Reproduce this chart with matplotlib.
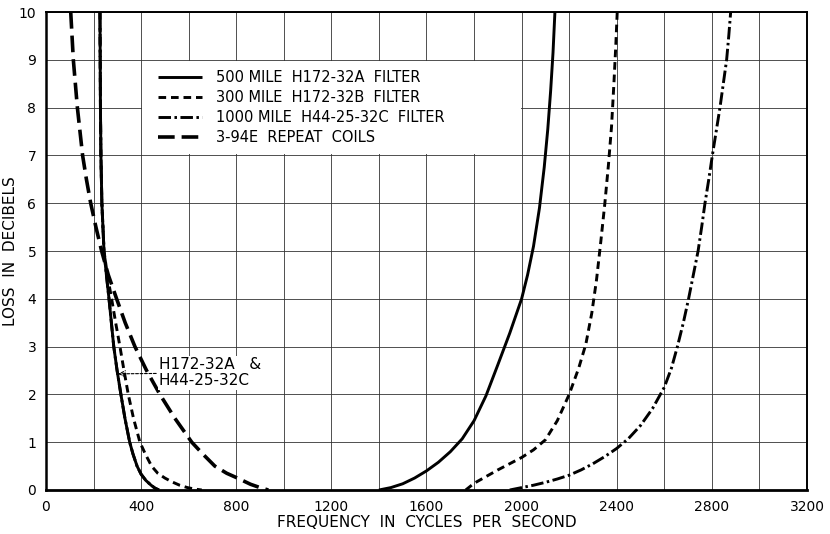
import numpy as np
import matplotlib
matplotlib.use('Agg')
from matplotlib import pyplot as plt
from matplotlib.patches import Rectangle

# ---- data (frequency in c/s, loss in dB) ----
# 500 mile H172-32A filter (low side is shared with H44-25-32C)
a_low_f = [227, 229, 231, 235, 244, 254, 265, 275, 285, 299, 315, 332, 352, 366, 383, 400, 420, 442, 458, 475]
a_low_db = [10, 8, 7, 6, 5, 4.5, 4, 3.5, 3, 2.5, 2, 1.5, 1, 0.75, 0.5, 0.33, 0.2, 0.1, 0.04, 0]
a_high_f = [1400, 1450, 1500, 1550, 1600, 1650, 1700, 1750, 1800, 1850, 1900, 1950, 2000, 2025, 2050, 2075, 2095, 2110, 2122, 2132, 2140]
a_high_db = [0, 0.05, 0.13, 0.25, 0.4, 0.58, 0.8, 1.07, 1.45, 1.97, 2.62, 3.28, 4.0, 4.5, 5.1, 5.9, 6.75, 7.55, 8.35, 9.15, 10]

# 300 mile H172-32B filter
b_low_f = [227, 229, 231, 235, 244, 258, 276, 293, 311, 328, 346, 368, 395, 418, 444, 470, 500, 530, 562, 595, 625, 655]
b_low_db = [10, 8, 7, 6, 5, 4.5, 4, 3.5, 3, 2.5, 2, 1.5, 1, 0.75, 0.5, 0.35, 0.25, 0.17, 0.1, 0.05, 0.02, 0]
b_high_f = [1765, 1800, 1850, 1900, 1950, 2000, 2050, 2100, 2150, 2200, 2240, 2270, 2295, 2315, 2333, 2350, 2365, 2378, 2388, 2396, 2402]
b_high_db = [0, 0.14, 0.28, 0.42, 0.55, 0.68, 0.84, 1.05, 1.45, 2.0, 2.55, 3.05, 3.7, 4.4, 5.2, 6.0, 6.8, 7.6, 8.5, 9.3, 10]

# 1000 mile H44-25-32C filter (low side same as H172-32A)
c_low_f = a_low_f
c_low_db = a_low_db
c_high_f = [1950, 2000, 2050, 2100, 2150, 2200, 2250, 2300, 2350, 2400, 2450, 2500, 2550, 2600, 2630, 2655, 2680, 2702,
            2722, 2742, 2757, 2771, 2787, 2802, 2818, 2834, 2848, 2862, 2871, 2879]
c_high_db = [0, 0.05, 0.1, 0.16, 0.23, 0.31, 0.42, 0.55, 0.7, 0.87, 1.08, 1.35, 1.7, 2.15, 2.55, 3.0, 3.5, 4.0,
             4.5, 5.0, 5.5, 6.0, 6.5, 7.0, 7.5, 8.0, 8.5, 9.0, 9.5, 10]

# 3-94E repeat coils
d_f = [104, 115, 132, 154, 170, 188, 210, 234, 262, 297, 333, 374, 423, 479, 542, 613, 660, 710, 760, 805, 860, 900, 935]
d_db = [10, 9, 8, 7, 6.5, 6, 5.5, 5, 4.5, 4, 3.5, 3, 2.5, 2, 1.5, 1, 0.75, 0.5, 0.35, 0.25, 0.12, 0.05, 0]

labels = ['500 MILE  H172-32A  FILTER', '300 MILE  H172-32B  FILTER',
          '1000 MILE  H44-25-32C  FILTER', '3-94E  REPEAT  COILS']
x_ticks = np.arange(0, 3201, 400)
y_ticks = np.arange(0, 11, 1)

plt.rcParams['lines.scale_dashes'] = False
plt.rcParams['font.family'] = 'DejaVu Sans'

fig = plt.figure(figsize=(8.3, 5.34), dpi=100)
ax = fig.add_axes([0.0554, 0.0824, 0.9169, 0.8951])
ax.set_xlim(0, 3200)
ax.set_ylim(0, 10)

# grid every 200 c/s and every dB
ax.set_xticks(np.arange(0, 3201, 200), minor=True)
ax.set_xticks(x_ticks)
ax.set_yticks(y_ticks)
ax.grid(True, which='both', color='#333333', lw=0.6)
ax.set_axisbelow(True)
ax.tick_params(which='both', length=0, labelsize=10, colors='black')
ax.tick_params(axis='x', pad=7)
ax.tick_params(axis='y', pad=7)
for s in ax.spines.values():
    s.set_linewidth(1.4)
ax.spines['bottom'].set_linewidth(2.0)
ax.spines['left'].set_linewidth(1.8)

solid = dict(color='black', lw=2.1, ls='-', solid_capstyle='butt', solid_joinstyle='round')
short = dict(color='black', lw=2.1, ls=(0, (5.5, 3.5)))
dashdot = dict(color='black', lw=2.1, ls=(0, (9, 2.5, 1.8, 2.5)))
long = dict(color='black', lw=2.6, ls=(0, (12, 5)))

ax.plot(c_low_f, c_low_db, **dashdot, zorder=3)
ax.plot(b_low_f, b_low_db, **short, zorder=3)
ax.plot(a_low_f, a_low_db, **solid, zorder=4)
ax.plot(d_f, d_db, **long, zorder=4)

l1, = ax.plot(a_high_f, a_high_db, **solid, label=labels[0], zorder=4)
l2, = ax.plot(b_high_f, b_high_db, **short, label=labels[1], zorder=4)
l3, = ax.plot(c_high_f, c_high_db, **dashdot, label=labels[2], zorder=4)
l4, = ax.plot([], [], **long, label=labels[3])

# white panel behind the key, covering the grid
ax.add_patch(Rectangle((403, 7.02), 1594, 1.96, facecolor='white', edgecolor='none', zorder=2))
leg = ax.legend(handles=[l1, l2, l3, l4], loc='center left', bbox_to_anchor=(470, 8.0),
                bbox_transform=ax.transData, frameon=False, fontsize=10.5,
                handlelength=3.0, handletextpad=1.0, labelspacing=0.35,
                borderpad=0, borderaxespad=0)
leg.set_zorder(5)

ax.annotate('H172-32A   &\nH44-25-32C', xy=(303, 2.43), xytext=(475, 2.45),
            fontsize=11, va='center', ha='left', linespacing=1.1,
            bbox=dict(facecolor='white', edgecolor='none', pad=1),
            arrowprops=dict(arrowstyle='->', color='black', lw=0.8, ls=(0, (2, 1.2)),
                            shrinkA=1, shrinkB=0),
            zorder=5)

ax.set_xlabel('FREQUENCY  IN  CYCLES  PER  SECOND', fontsize=11, va='center')
ax.xaxis.set_label_coords(0.5, -0.067)
ax.set_ylabel('LOSS  IN  DECIBELS', fontsize=11, va='center')
ax.yaxis.set_label_coords(-0.046, 0.5)

fig.savefig('out.png', dpi=100)
